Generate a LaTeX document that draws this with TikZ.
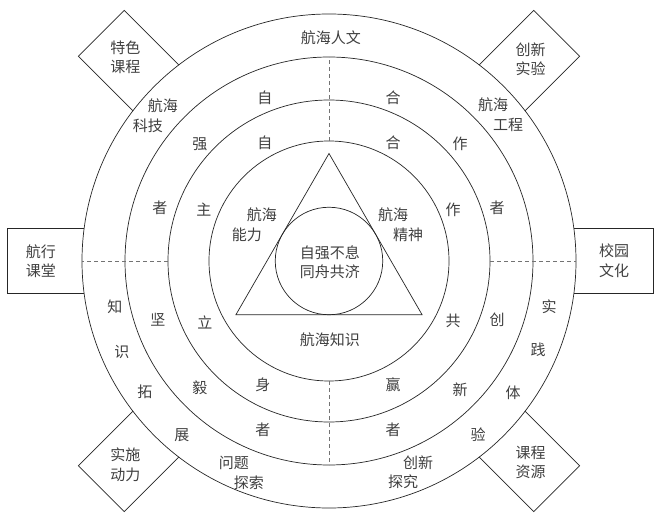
\documentclass[tikz,border=0pt]{standalone}
\usepackage{fontspec}
\newfontfamily\cjk{Noto Sans CJK SC}
\usepackage{xcolor}
\usepackage{tikz}
\usetikzlibrary{positioning, calc}

\begin{document}
\begin{tikzpicture}[
    x=1pt, y=1pt,
    ring/.style={draw=black!85, line width=0.7pt},
    sep/.style={draw=black!55, line width=0.7pt, dash pattern=on 4pt off 3pt},
    word/.style={inner sep=0pt, text=black!75, font=\cjk\fontsize{15}{19.5}\selectfont},
    pair/.style={word, align=left},
    tag/.style={word, align=center},
    panel/.style={draw=black!85, fill=white, line width=0.7pt}
]
    \useasboundingbox (-329,-258) rectangle (335,261);

    % side panels, their inner edge is hidden by the outer ring
    \draw[panel, rotate=180] (200,-32.5) -- (322,-32.5) -- (322,32.5) -- (200,32.5) -- cycle;
    \draw[panel, rotate=0] (200,-32.5) -- (324,-32.5) -- (324,32.5) -- (200,32.5) -- cycle;
    \draw[panel, rotate=135] (200,-32.5) -- (322,-32.5) -- (322,32.5) -- (200,32.5) -- cycle;
    \draw[panel, rotate=45] (200,-32.5) -- (322,-32.5) -- (322,32.5) -- (200,32.5) -- cycle;
    \draw[panel, rotate=225] (200,-32.5) -- (322,-32.5) -- (322,32.5) -- (200,32.5) -- cycle;
    \draw[panel, rotate=315] (200,-32.5) -- (322,-32.5) -- (322,32.5) -- (200,32.5) -- cycle;

    % rings
    \fill[white] (0,0) circle (247);
    \draw[ring] (0,0) circle (247);
    \draw[ring] (0,0) circle (204);
    \draw[ring] (0,0) circle (161);
    \draw[ring] (0,0) circle (120);
    \draw[ring] (0,0) circle (53.75);
    \draw[ring] (90:107.5) -- (210:107.5) -- (330:107.5) -- cycle;

    % dashed dividers
    \draw[sep] (90:120) -- (90:204);
    \draw[sep] (270:120) -- (270:204);
    \draw[sep] (180:161) -- (180:247);
    \draw[sep] (0:161) -- (0:247);

    % panel labels
    \node[tag] (classroom) at (180:288) {航行\\课堂};
    \node[tag] (campus) at (0:285) {校园\\文化};
    \node[tag] (feature) at (135:288) {特色\\课程};
    \node[tag] (experiment) at (45:285) {创新\\实验};
    \node[tag] (drive) at (225:288) {实施\\动力};
    \node[tag] (resource) at (315:285) {课程\\资源};

    % outer ring
    \node[word] (humanity) at (2,223) {航海人文};
    \node[pair] (tech) at (-173.5,145.5) {\hspace*{1em}航海\\科技};
    \node[pair] (engin) at (171.5,146.5) {航海\\\hspace*{1em}工程};
    \node[pair] (problem) at (-87.5,-212) {问题\\\hspace*{1em}探索};
    \node[pair] (explore) at (81.5,-211.5) {\hspace*{1em}创新\\探究};
    \node[word] (zhi) at (-214,-46) {知};
    \node[word] (shi) at (-207,-91) {识};
    \node[word] (tuo) at (-184,-131) {拓};
    \node[word] (zhan) at (-147,-174) {展};
    \node[word] (prac) at (220,-46) {实};
    \node[word] (jian) at (209,-89) {践};
    \node[word] (ti) at (184,-132) {体};
    \node[word] (yan) at (149,-174) {验};

    % third ring
    \node[word] (zi-a) at (-64,163) {自};
    \node[word] (qiang) at (-129,117) {强};
    \node[word] (zhe-a) at (-169,53) {者};
    \node[word] (jian-b) at (-171,-59) {坚};
    \node[word] (yi) at (-129,-127) {毅};
    \node[word] (zhe-b) at (-66,-169) {者};
    \node[word] (he-a) at (64,163) {合};
    \node[word] (zuo-a) at (131,117) {作};
    \node[word] (zhe-c) at (168,53) {者};
    \node[word] (chuang) at (168,-59) {创};
    \node[word] (xin) at (131,-129) {新};
    \node[word] (zhe-d) at (64,-169) {者};

    % second ring
    \node[word] (zi-b) at (-64,118) {自};
    \node[word] (zhu) at (-125,51) {主};
    \node[word] (li) at (-124,-61) {立};
    \node[word] (shen) at (-66,-124) {身};
    \node[word] (he-b) at (64,118) {合};
    \node[word] (zuo-b) at (124,51) {作};
    \node[word] (gong) at (124,-60) {共};
    \node[word] (ying) at (64,-124) {赢};

    % core
    \node[pair] (ability) at (-74.5,36.5) {\hspace*{1em}航海\\能力};
    \node[pair] (spirit) at (71.5,36.5) {航海\\\hspace*{1em}精神};
    \node[word] (knowledge) at (1,-79) {航海知识};
    \node[tag] (motto) at (1,-1) {自强不息\\同舟共济};
\end{tikzpicture}
\end{document}
